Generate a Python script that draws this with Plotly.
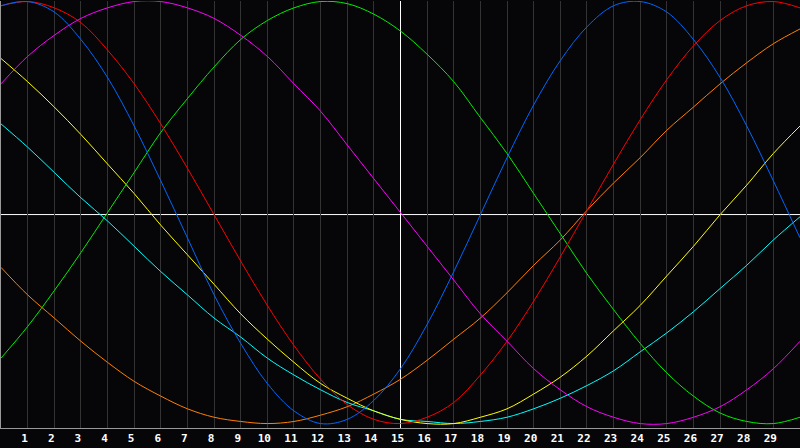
import plotly.graph_objects as go

# days of the window (0..30), "today" = day 15 sits on the centre line
days = list(range(31))
today = 15
tick_days = list(range(1, 30))

# cycle values in percent at each day
physical = [98, 100, 95, 82, 64, 41, 15, -12, -39, -62, -81, -94, -100, -98, -89, -74,
            -53, -28, -1, 26, 51, 72, 88, 98, 100, 95, 82, 64, 41, 15, -12]
emotional = [98, 100, 97, 90, 77, 61, 42, 21, -1, -23, -44, -63, -79, -91, -98, -100,
             -97, -90, -77, -61, -42, -21, 1, 23, 44, 63, 79, 91, 98, 100, 97]
intellectual = [-69, -54, -37, -19, 0, 19, 38, 54, 69, 82, 91, 97, 100, 99, 94, 86,
                75, 62, 45, 28, 9, -10, -29, -46, -62, -76, -87, -95, -99, -100, -97]
intuitive = [61, 74, 84, 92, 97, 100, 100, 97, 92, 84, 74, 61, 48, 32, 16, 0,
             -16, -32, -48, -61, -74, -84, -92, -97, -100, -100, -97, -92, -84, -74, -61]
aesthetic = [73, 62, 50, 37, 23, 9, -6, -20, -34, -48, -60, -71, -81, -88, -94, -98,
             -100, -100, -97, -93, -86, -78, -68, -56, -44, -30, -16, -1, 13, 28, 41]
awareness = [-26, -39, -50, -61, -71, -80, -87, -93, -97, -99, -100, -99, -96, -92, -86, -79,
             -70, -60, -50, -38, -25, -13, 1, 14, 26, 39, 50, 61, 71, 80, 87]
spiritual = [42, 31, 19, 7, -4, -16, -28, -39, -50, -59, -69, -77, -84, -90, -94, -98,
             -99, -100, -99, -97, -93, -88, -82, -75, -66, -57, -47, -36, -25, -13, -2]

series = [
    (awareness, "#ff8000"),
    (spiritual, "#00ffff"),
    (aesthetic, "#ffff00"),
    (intellectual, "#00ee00"),
    (emotional, "#ff0000"),
    (physical, "#0066ff"),
    (intuitive, "#ff00ff"),
]

bg = "#060609"

# x is measured from today so the x zeroline gives the white "today" line
rel_days = [d - today for d in days]

fig = go.Figure()
for values, color in series:
    fig.add_trace(go.Scatter(
        x=rel_days, y=values, mode="lines",
        line=dict(color=color, width=1, shape="spline", smoothing=1),
        hoverinfo="skip", showlegend=False,
    ))

# horizontal white centre line (sits a hair under the curves' zero, like the original)
fig.add_hline(y=-0.95, line=dict(color="white", width=1), layer="below")

fig.update_xaxes(
    range=[-today, 30 - today],
    tickvals=[d - today for d in tick_days], ticktext=[str(d) for d in tick_days],
    showgrid=True, gridcolor="#333333", gridwidth=1,
    zeroline=True, zerolinecolor="white", zerolinewidth=1,
    showline=True, linecolor="#999999", linewidth=1,
    ticks="", ticklabelshift=-3,
    tickfont=dict(family="DejaVu Sans Mono", size=11, color="white", weight="bold"),
)
fig.update_yaxes(
    range=[-102.1, 100.25], showticklabels=False, showgrid=False, zeroline=False,
    showline=True, linecolor="#999999", linewidth=1,
)
fig.update_layout(
    width=800, height=448,
    margin=dict(l=1, r=0, t=1, b=20),
    paper_bgcolor=bg, plot_bgcolor=bg,
)
fig.write_html(
    "out.html",
    config={"displayModeBar": False},
    post_script="document.body.style.margin='0';document.body.style.background='%s';" % bg,
)
